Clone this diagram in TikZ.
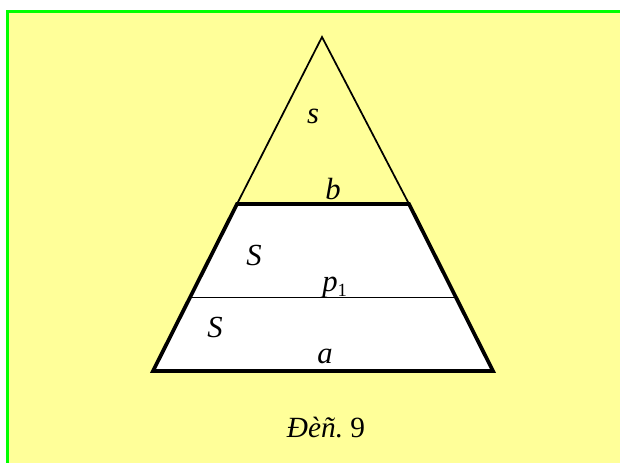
\documentclass[tikz,border=0pt]{standalone}
\usepackage{fontspec}
\setmainfont{Liberation Serif}
\definecolor{bgyellow}{HTML}{FFFF99}
\definecolor{framegreen}{HTML}{00FF00}
\begin{document}
\begin{tikzpicture}[x=0.75pt,y=-0.75pt,
  thinline/.style={line width=1.3pt,line join=miter},
  thickline/.style={line width=2.8pt,line join=miter},
  lbl/.style={inner sep=0pt,font=\fontsize{23}{27}\selectfont\itshape}]
\useasboundingbox (0,0) rectangle (620,463);
\fill[white] (0,0) rectangle (620,463);
\fill[bgyellow] (7,11) rectangle (620,463);
\draw[framegreen,line width=2.4pt] (7.5,463) -- (7.5,11.5) -- (620,11.5);
% points
\coordinate (A) at (322,37);
\coordinate (BL) at (237,204);
\coordinate (BR) at (409,204);
\coordinate (ML) at (190,297.5);
\coordinate (MR) at (456,297.5);
\coordinate (CL) at (153,371);
\coordinate (CR) at (493,371);
% top triangle sides
\draw[thinline] (BL) -- (A) -- (BR);
% trapezoid
\fill[white] (BL) -- (BR) -- (CR) -- (CL) -- cycle;
\draw[thinline] (ML) -- (MR);
\draw[thickline] (BL) -- (BR) -- (CR) -- (CL) -- cycle;
% labels
\node[lbl] (ls) at (313,116) {s};
\node[lbl] (lb) at (333,189) {b};
\node[lbl] (lS1) at (254,255) {S};
\node[lbl,anchor=base west] (lp) at (322,291) {p\raisebox{-4pt}{\upshape\fontsize{14}{14}\selectfont 1}};
\node[lbl] (lS2) at (215,327) {S};
\node[lbl] (la) at (325,356) {a};
\node[inner sep=0pt,font=\fontsize{22}{26}\selectfont] (cap) at (326,428) {\textit{Đèñ.}\ 9};
\end{tikzpicture}
\end{document}
